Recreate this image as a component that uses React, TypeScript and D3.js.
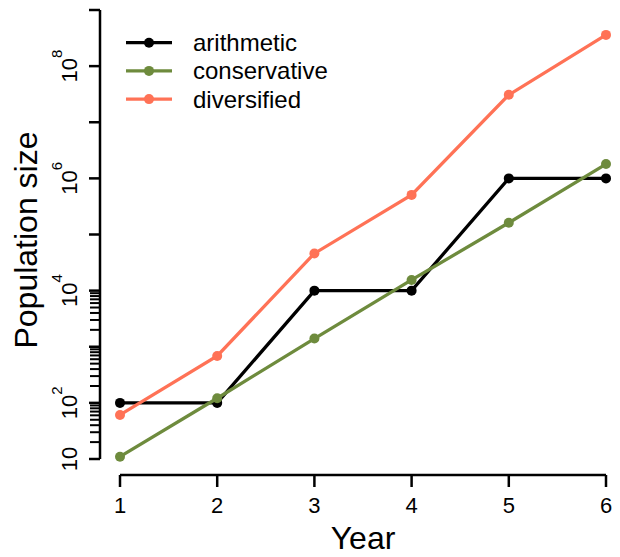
import React from "react";
import * as d3 from "d3";

const years = [1, 2, 3, 4, 5, 6];
const arithmetic = [100, 100, 1e4, 1e4, 1e6, 1e6];
const conservative = [11, 121, 1400, 15500, 162000, 1.8e6];
const diversified = [61, 686, 46000, 508000, 3.08e7, 3.6e8];
const seriesNames = ["arithmetic", "conservative", "diversified"];
const seriesColors = ["#000000", "#6E8B3D", "#FF7256"];
const yLabelPowers = [1, 2, 4, 6, 8];

export default function App() {
  const svgRef = React.useRef<SVGSVGElement>(null);
  const width = 620;
  const height = 557;

  React.useEffect(() => {
    const svg = d3.select(svgRef.current);
    svg.selectAll("*").remove();
    const font = "'Liberation Sans', Arial, sans-serif";

    var x = d3.scaleLinear().domain([1, 6]).range([120, 606]);
    var y = d3.scaleLog().domain([10, 1e9]).range([459, 10]);

    /* y axis */
    const yAxis = svg.append("g").attr("stroke", "#000").attr("stroke-width", 2.5);
    yAxis.append("line").attr("x1", 100).attr("x2", 100).attr("y1", y(1e9)).attr("y2", y(10));
    const majors = d3.range(1, 10).map((p) => Math.pow(10, p));
    const minors: number[] = [];
    [10, 100, 1000].forEach((b) => d3.range(2, 10).forEach((k) => minors.push(b * k)));
    yAxis
      .selectAll(".maj")
      .data(majors)
      .enter()
      .append("line")
      .attr("x1", 89)
      .attr("x2", 100)
      .attr("y1", (d) => y(d))
      .attr("y2", (d) => y(d));
    yAxis
      .selectAll(".min")
      .data(minors)
      .enter()
      .append("line")
      .attr("stroke-width", 2)
      .attr("x1", 90)
      .attr("x2", 100)
      .attr("y1", (d) => y(d))
      .attr("y2", (d) => y(d));

    yLabelPowers.forEach((p) => {
      const t = svg
        .append("text")
        .attr("transform", `translate(77, ${y(Math.pow(10, p))}) rotate(-90)`)
        .attr("text-anchor", "middle")
        .attr("font-family", font)
        .attr("font-size", 22)
        .text("10");
      if (p > 1) {
        t.append("tspan").attr("dy", -15).attr("font-size", 15).text(String(p));
      }
    });

    /* x axis */
    const xAxis = svg.append("g").attr("stroke", "#000").attr("stroke-width", 2.5);
    xAxis.append("line").attr("x1", x(1)).attr("x2", x(6)).attr("y1", 475).attr("y2", 475);
    xAxis
      .selectAll(".xt")
      .data(years)
      .enter()
      .append("line")
      .attr("x1", (d) => x(d))
      .attr("x2", (d) => x(d))
      .attr("y1", 475)
      .attr("y2", 487);
    svg
      .selectAll(".xl")
      .data(years)
      .enter()
      .append("text")
      .attr("x", (d) => x(d))
      .attr("y", 513)
      .attr("text-anchor", "middle")
      .attr("font-family", font)
      .attr("font-size", 22)
      .text((d) => d);

    /* axis titles */
    svg
      .append("text")
      .attr("x", x(3.5))
      .attr("y", 549)
      .attr("text-anchor", "middle")
      .attr("font-family", font)
      .attr("font-size", 32)
      .text("Year");
    svg
      .append("text")
      .attr("transform", "translate(37, 240) rotate(-90)")
      .attr("text-anchor", "middle")
      .attr("font-family", font)
      .attr("font-size", 32)
      .text("Population size");

    /* lines */
    const allSeries = [arithmetic, conservative, diversified];
    const line = d3
      .line<number>()
      .x((d, i) => x(years[i]))
      .y((d) => y(d));
    allSeries.forEach((vals, si) => {
      const g = svg.append("g");
      g.append("path")
        .attr("d", line(vals))
        .attr("fill", "none")
        .attr("stroke", seriesColors[si])
        .attr("stroke-width", 3.3);
      g.selectAll("circle")
        .data(vals)
        .enter()
        .append("circle")
        .attr("cx", (d, i) => x(years[i]))
        .attr("cy", (d) => y(d))
        .attr("r", 5)
        .attr("fill", seriesColors[si]);
    });

    /* legend */
    seriesNames.forEach((name, i) => {
      const ly = 42.7 + i * 28.2;
      svg.append("line")
        .attr("x1", 126)
        .attr("x2", 172)
        .attr("y1", ly)
        .attr("y2", ly)
        .attr("stroke", seriesColors[i])
        .attr("stroke-width", 3.3);
      svg.append("circle").attr("cx", 149).attr("cy", ly).attr("r", 5).attr("fill", seriesColors[i]);
      svg.append("text")
        .attr("x", 193)
        .attr("y", ly + 8.5)
        .attr("font-family", font)
        .attr("font-size", 24)
        .text(name);
    });
  }, []);

  return (
    <svg
      ref={svgRef}
      width={width}
      height={height}
      style={{ position: "absolute", left: 0, top: 0, background: "#fff" }}
    />
  );
}
